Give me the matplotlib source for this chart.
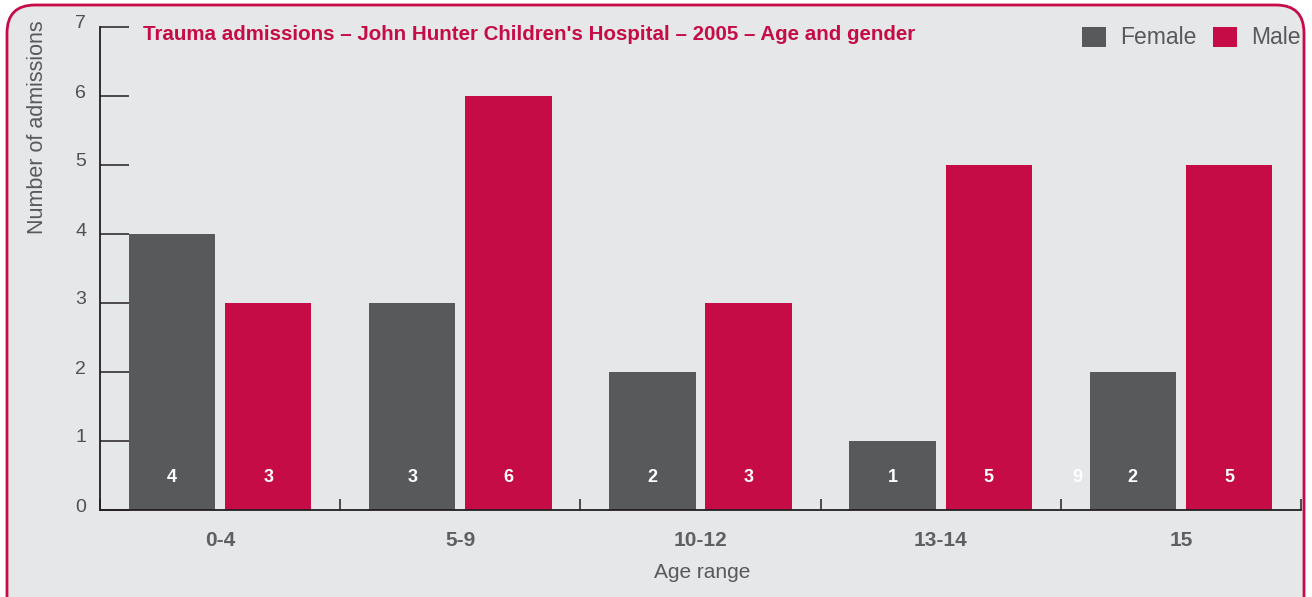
import matplotlib
matplotlib.use("Agg")
import matplotlib.pyplot as plt
from matplotlib.patches import FancyBboxPatch, Rectangle
from matplotlib.transforms import IdentityTransform, ScaledTranslation

age_groups = ["0-4", "5-9", "10-12", "13-14", "15"]
female = [4, 3, 2, 1, 2]
male = [3, 6, 3, 5, 5]

CRIMSON = "#C60C46"
DARK = "#58595B"
BG = "#E6E7E8"
TEXT = "#58595B"

plt.rcParams["font.family"] = ["Liberation Sans", "DejaVu Sans"]

W, H = 1312, 597
fig = plt.figure(figsize=(W / 100, H / 100), dpi=100, facecolor="white")

# rounded crimson frame (pixel coords)
frame = FancyBboxPatch((7, -30), 1297, 622, boxstyle="round,pad=0,rounding_size=28",
                       transform=IdentityTransform(), facecolor=BG, edgecolor=CRIMSON,
                       linewidth=2, zorder=-10)
fig.patches.append(frame)

ax = fig.add_axes([100 / W, 1 - 510 / H, 1201 / W, 483 / H])
ax.set_zorder(1)
ax.set_facecolor("none")
ax.set_xlim(0, 5)
ax.set_ylim(0, 7)

x = list(range(len(age_groups)))
width = 0.36
ax.bar([i + 0.3 for i in x], female, width, color=DARK, label="Female", zorder=2)
ax.bar([i + 0.7 for i in x], male, width, color=CRIMSON, label="Male", zorder=2)

for i in x:
    ax.text(i + 0.3, 0.47, str(female[i]), color="white", ha="center", va="center",
            fontsize=13, fontweight="bold", zorder=3)
    ax.text(i + 0.7, 0.47, str(male[i]), color="white", ha="center", va="center",
            fontsize=13, fontweight="bold", zorder=3)
# stray label visible in the original
ax.text(4.07, 0.47, "9", color="white", ha="center", va="center", fontsize=13,
        fontweight="bold", zorder=3)

for s in ["top", "right"]:
    ax.spines[s].set_visible(False)
for s in ["left", "bottom"]:
    ax.spines[s].set_color("#231F20")
    ax.spines[s].set_linewidth(1.3)

ax.set_yticks(range(0, 8))
ax.tick_params(axis="y", direction="in", length=21, width=1.1, color="#231F20",
               labelsize=14, labelcolor="#505050", pad=10)
up = ScaledTranslation(0, 5 / 100, fig.dpi_scale_trans)
for lab in ax.get_yticklabels():
    lab.set_transform(lab.get_transform() + up)

ax.set_xticks([i + 0.5 for i in x])
ax.set_xticklabels(age_groups, fontsize=15, color="#5e5f61", fontweight="bold")
ax.tick_params(axis="x", which="major", length=0, pad=15)
ax.set_xticks(range(0, 6), minor=True)
ax.tick_params(axis="x", which="minor", direction="in", length=8, width=1.1, color="#231F20")

fig.text(143 / W, 1 - 35 / H, "Trauma admissions \u2013 John Hunter Children's Hospital \u2013 2005 \u2013 Age and gender",
         color=CRIMSON, fontsize=14.8, fontweight="bold", ha="left", va="center")
fig.text(38 / W, 1 - 20 / H, "Number of admissions", rotation=90, ha="center", va="top",
         fontsize=15.5, color=TEXT)
fig.text(702 / W, 1 - 572 / H, "Age range", ha="center", va="center", fontsize=15, color=TEXT)

# legend
for px, lbl, col in [(1082, "Female", DARK), (1213, "Male", CRIMSON)]:
    fig.patches.append(Rectangle((px, H - 47), 24, 20, transform=IdentityTransform(),
                                 facecolor=col, edgecolor="none"))
    fig.text((px + 38) / W, 1 - 37 / H, lbl, ha="left", va="center", fontsize=16.5,
             color=TEXT)

fig.savefig("out.png", dpi=100)
